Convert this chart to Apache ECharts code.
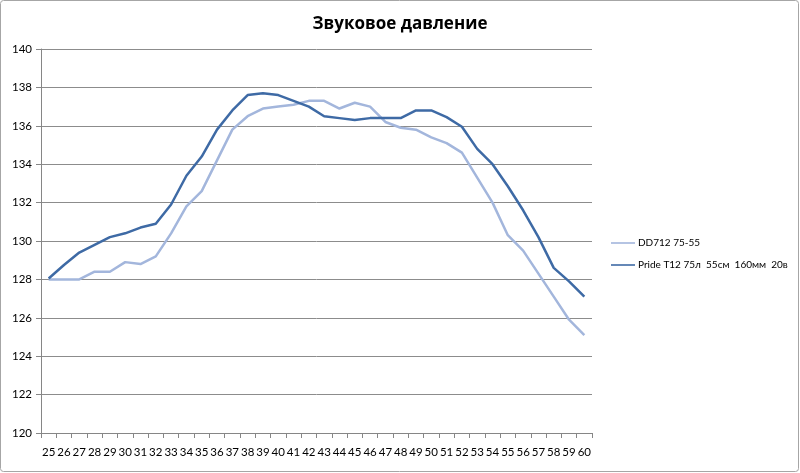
<!DOCTYPE html>
<html><head><meta charset="utf-8">
<script src="https://cdn.jsdelivr.net/npm/echarts@6/dist/echarts.min.js"></script>
<style>html,body{margin:0;padding:0;background:#fff}#c{width:800px;height:473px}</style>
</head><body><div id="c"></div>
<script>
const categories = ['25','26','27','28','29','30','31','32','33','34','35','36','37','38','39','40','41','42','43','44','45','46','47','48','49','50','51','52','53','54','55','56','57','58','59','60'];
const dd712 = [128.0,128.0,128.0,128.4,128.4,128.9,128.8,129.2,130.4,131.8,132.6,134.2,135.8,136.5,136.9,137.0,137.1,137.3,137.3,136.9,137.2,137.0,136.2,135.9,135.8,135.4,135.1,134.6,133.3,132.0,130.3,129.5,128.3,127.1,125.9,125.1];
const pride = [128.05,128.75,129.4,129.8,130.2,130.4,130.7,130.9,131.9,133.4,134.4,135.8,136.8,137.6,137.7,137.6,137.3,137.0,136.5,136.4,136.3,136.4,136.4,136.4,136.8,136.8,136.45,135.95,134.8,134.0,132.85,131.6,130.2,128.6,127.9,127.1];
const seriesNames = ['DD712 75-55', 'Pride T12 75л  55см  160мм  20в'];
const yTicks = {min:120, max:140, interval:2};

const chart = echarts.init(document.getElementById('c'));
const font = 'Lato, Open Sans, sans-serif';
chart.setOption({
  animation:false,
  backgroundColor:'#fff',
  graphic:[{type:'rect', shape:{x:0.5,y:0.5,width:798,height:471,r:3}, style:{fill:null, stroke:'#a6a6a6', lineWidth:1}, silent:true}],
  title:{text:'Звуковое давление', left:'center', top:11, textStyle:{fontFamily:'Open Sans, sans-serif', fontSize:17, fontWeight:'bold', color:'#000'}},
  legend:{orient:'vertical', left:606, top:233, itemWidth:24, itemHeight:10, itemGap:12, icon:'path://M0,4 L30,4 L30,6 L0,6 Z',
    textStyle:{fontFamily:font, fontSize:10, color:'#000', padding:[0,0,0,-2]}, data:seriesNames},
  grid:{left:41, right:208, top:49, bottom:40},
  xAxis:{type:'category', data:categories, boundaryGap:true,
    axisLine:{lineStyle:{color:'#868686'}}, axisTick:{show:true, length:5, alignWithLabel:false, lineStyle:{color:'#868686'}},
    axisLabel:{fontFamily:font, fontSize:11.5, color:'#000', margin:13, interval:0}},
  yAxis:{type:'value', min:yTicks.min, max:yTicks.max, interval:yTicks.interval,
    axisLine:{show:true, lineStyle:{color:'#868686'}}, axisTick:{show:true, length:5, inside:false, lineStyle:{color:'#868686'}},
    axisLabel:{fontFamily:font, fontSize:11.5, color:'#000', margin:9},
    splitLine:{lineStyle:{color:'#8c8c8c', width:1}}},
  series:[
    {name:seriesNames[0], type:'line', data:dd712, symbol:'none', lineStyle:{color:'#a3b6dc', width:2.5}, itemStyle:{color:'#a3b6dc'}},
    {name:seriesNames[1], type:'line', data:pride, symbol:'none', lineStyle:{color:'#3e6aa5', width:2.5}, itemStyle:{color:'#3e6aa5'}}
  ]
});
</script></body></html>
